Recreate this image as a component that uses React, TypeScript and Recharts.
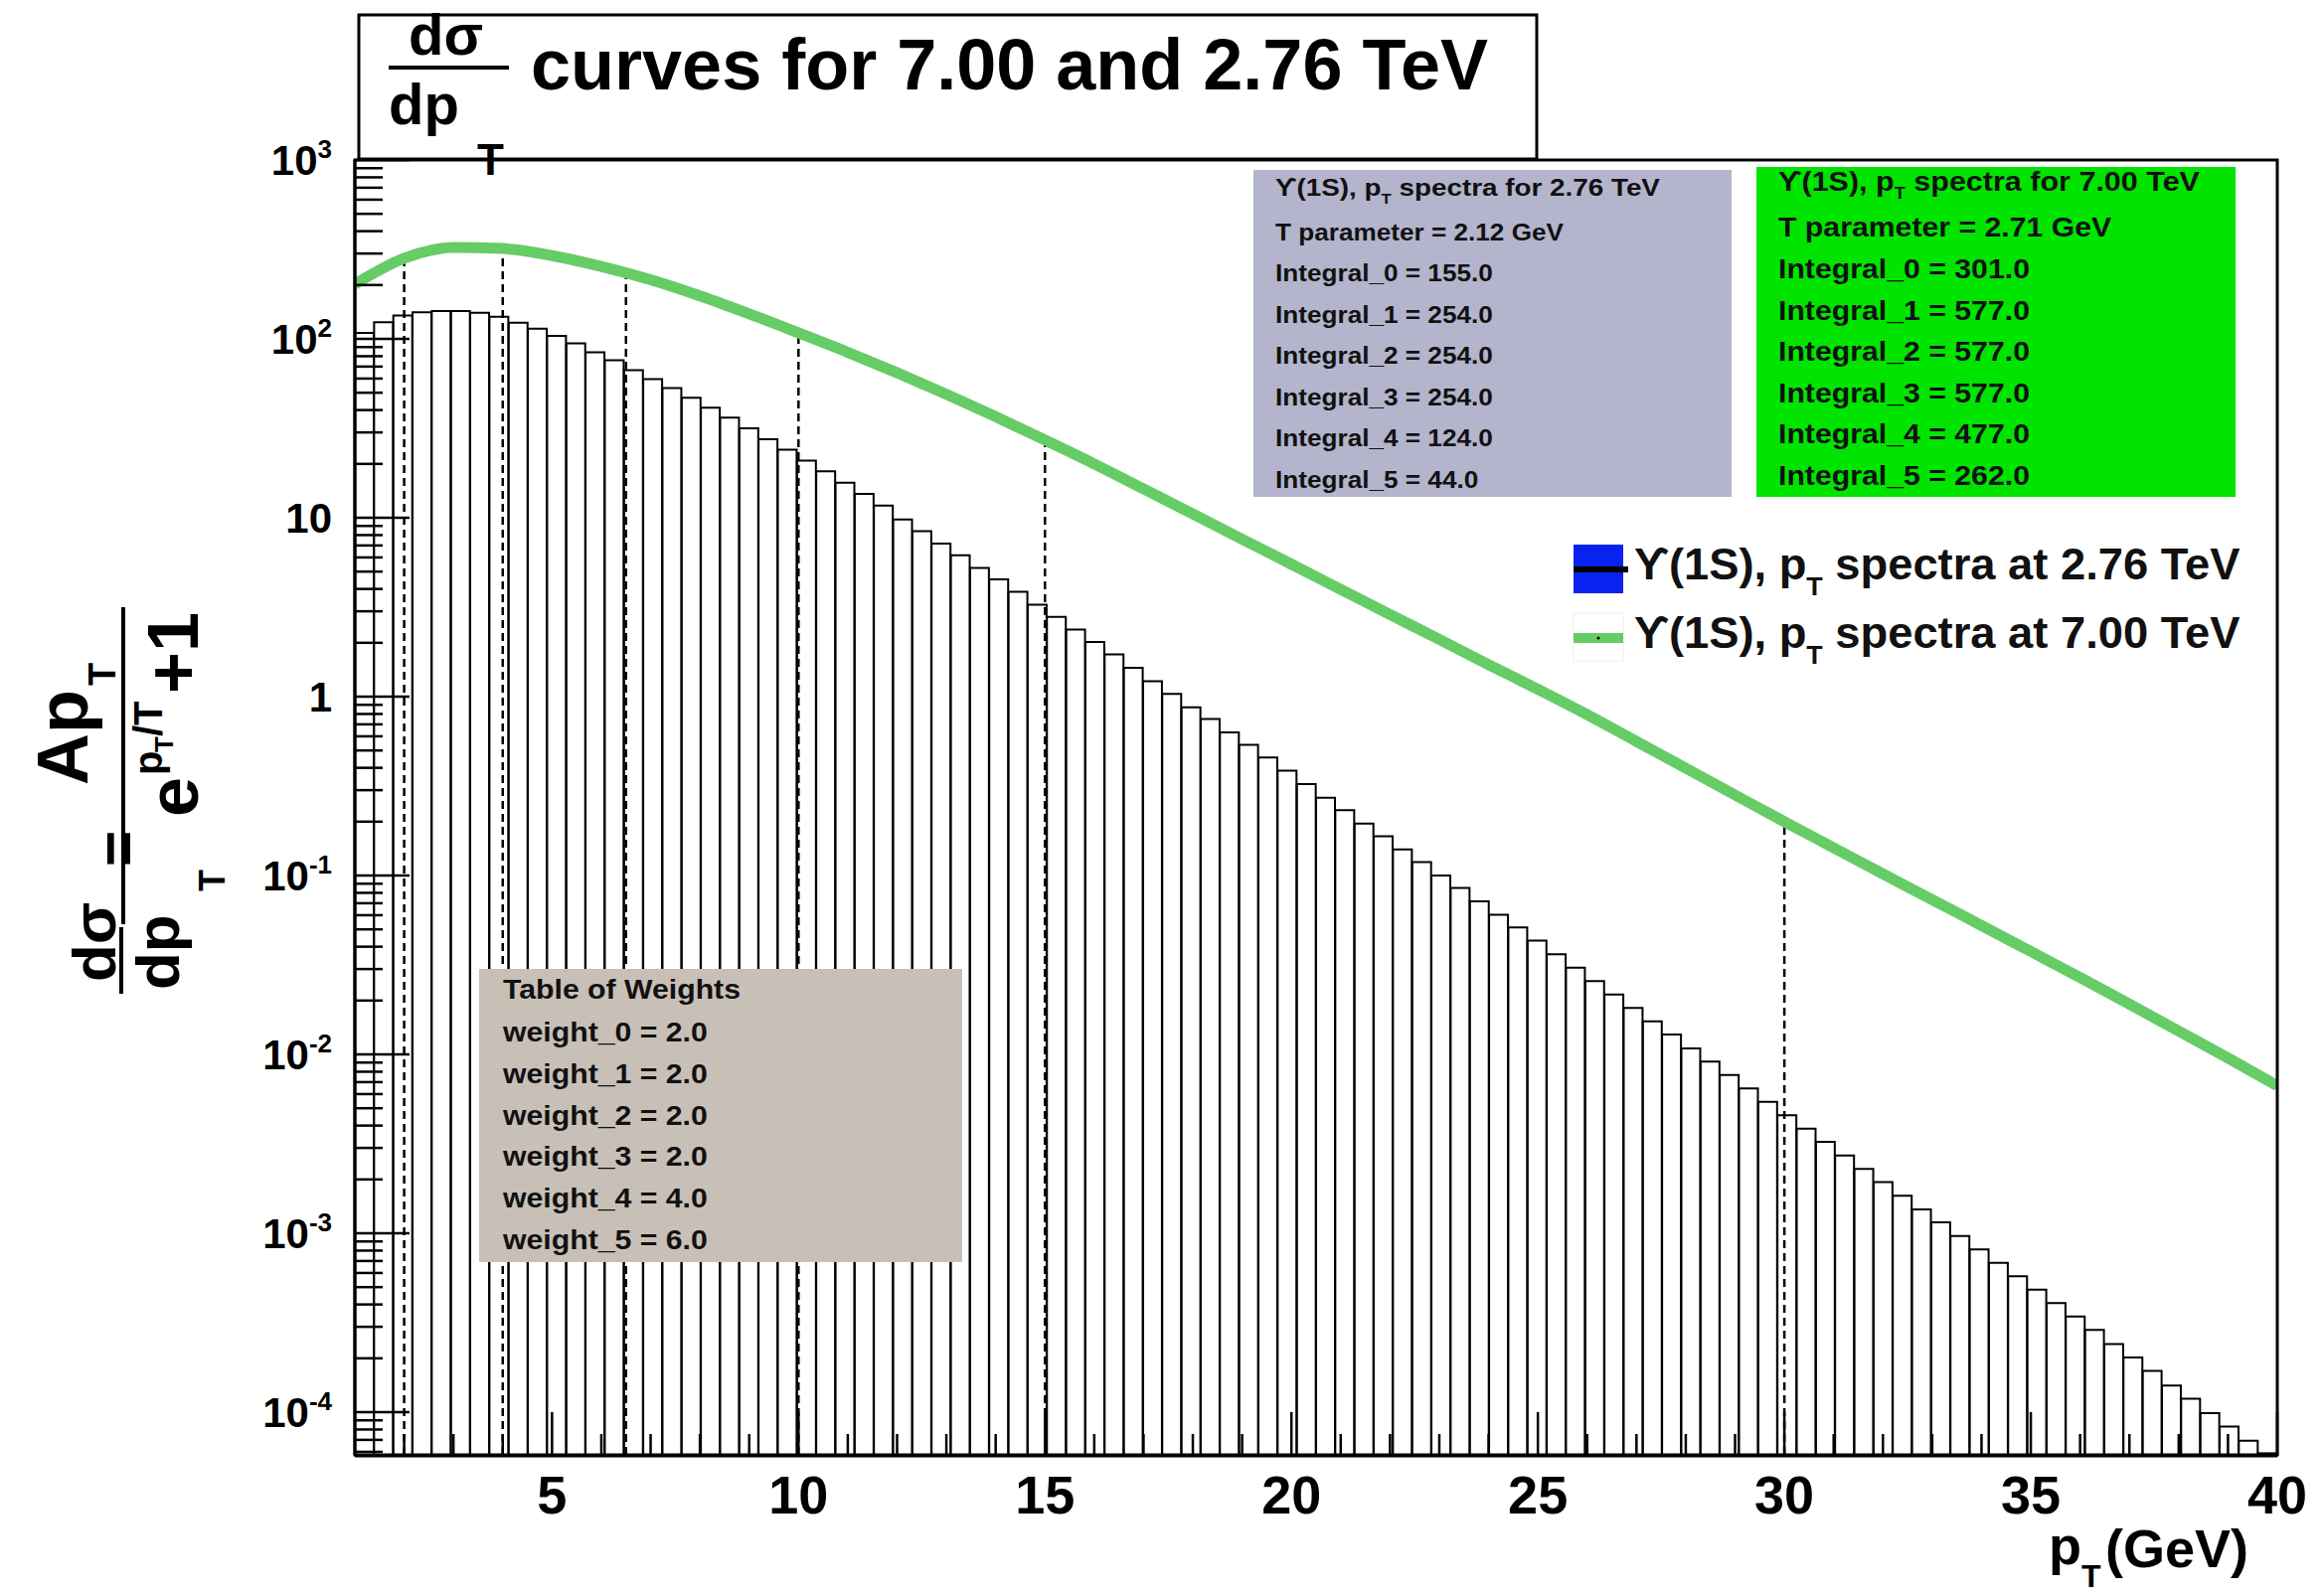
import React from 'react';
import { ComposedChart, Bar, Line, XAxis, YAxis, ReferenceLine } from 'recharts';

const FONT = '"Liberation Sans", Arial, Helvetica, sans-serif';
const W = 2338;
const H = 1604;

// y range of the log axis
const Y_MIN = 5.77e-5;
const Y_MAX = 1000;

// 2.76 TeV histogram, 100 bins of width 0.39 GeV from pT = 1 to 40
const histValues = [
  108, 124, 135, 141, 143, 143, 140, 133, 123, 114,
  104, 94.4, 84.1, 75.9, 66.8, 59.6, 53.1, 46.8, 41.2, 36.3,
  31.6, 27.5, 24.0, 20.9, 18.2, 15.7, 13.6, 11.7, 9.77, 8.41,
  7.16, 6.17, 5.25, 4.52, 3.85, 3.27, 2.79, 2.37, 2.02, 1.72,
  1.45, 1.22, 1.035, 0.871, 0.75, 0.631, 0.537, 0.457, 0.385, 0.324,
  0.272, 0.232, 0.195, 0.166, 0.14, 0.119, 0.1, 0.0851, 0.0716, 0.0603,
  0.0513, 0.0432, 0.0363, 0.0305, 0.0257, 0.0216, 0.0182, 0.0153, 0.0129, 0.0108,
  0.00912, 0.00767, 0.00646, 0.00543, 0.00457, 0.00385, 0.00324, 0.00272, 0.00229, 0.00193,
  0.00162, 0.00136, 0.00115, 0.000966, 0.000813, 0.000684, 0.000575, 0.000484, 0.000407, 0.000343,
  0.000288, 0.00024, 0.000202, 0.00017, 0.000141, 0.000119, 0.0000989, 0.0000832, 0.0000692, 0.0000589,
];

// 7.00 TeV curve, read at integer pT
const curvePt = [
  1, 2, 3, 4, 5, 6, 7, 8, 9, 10, 11, 12, 13, 14, 15, 16, 17, 18, 19, 20,
  21, 22, 23, 24, 25, 26, 27, 28, 29, 30, 31, 32, 33, 34, 35, 36, 37, 38, 39, 40,
];
const curveVal = [
  202, 282, 324, 320, 292, 254, 214, 174, 138, 108,
  84.1, 64.6, 49.0, 36.7, 27.2, 20.0, 14.5, 10.5, 7.59, 5.5,
  3.98, 2.88, 2.09, 1.51, 1.1, 0.794, 0.562, 0.398, 0.282, 0.2,
  0.143, 0.102, 0.0733, 0.0525, 0.0376, 0.0269, 0.0191, 0.0135, 0.00955, 0.00668,
];

// dashed integration boundaries and where they stop
const cutPt = [2, 4, 6.5, 10, 15, 30];
const cutTop = [282, 320, 235, 108, 27.2, 0.2];

const xTicks = Array.from({ length: 39 }, (_, i) => i + 2);
const yDecades = [-5, -4, -3, -2, -1, 0, 1, 2];
const yTicks = [...yDecades.flatMap((k) => [1, 2, 3, 4, 5, 6, 7, 8, 9].map((m) => m * Math.pow(10, k))), 1000].filter(
  (v) => v >= Y_MIN && v <= Y_MAX
);

const integrals276 = ['155.0', '254.0', '254.0', '254.0', '124.0', '44.0'];
const integrals700 = ['301.0', '577.0', '577.0', '577.0', '477.0', '262.0'];
const tParams = ['2.12', '2.71'];
const energies = ['2.76', '7.00'];
const weights = ['2.0', '2.0', '2.0', '2.0', '4.0', '6.0'];

const histBins = histValues.map((value, i) => ({ bin: `b${i}`, value }));
const curveData = curvePt.map((pt, i) => ({ pt, value: curveVal[i] }));

const XTick = (props: any) => {
  const { x, y, payload } = props;
  const v = payload.value;
  const major = v % 5 === 0;
  return (
    <g>
      <line x1={x} y1={y} x2={x} y2={y - (major ? 44 : 22)} stroke="#000" strokeWidth={2.5} />
      {major && (
        <text x={x} y={y + 58} textAnchor="middle" fontSize={54} fontWeight="bold" fontFamily={FONT} fill="#000">
          {v}
        </text>
      )}
    </g>
  );
};

const YTick = (props: any) => {
  const { x, y, payload } = props;
  const lg = Math.log10(payload.value);
  const k = Math.round(lg);
  const major = Math.abs(lg - k) < 1e-6;
  return (
    <g>
      <line x1={x} y1={y} x2={x + (major ? 55 : 28)} y2={y} stroke="#000" strokeWidth={2.5} />
      {major && (
        <text x={x - 23} y={y + 15} textAnchor="end" fontSize={42} fontWeight="bold" fontFamily={FONT} fill="#000">
          {k === 0 ? '1' : k === 1 ? '10' : (
            <>
              10<tspan dy={-17} fontSize={26}>{k}</tspan>
            </>
          )}
        </text>
      )}
    </g>
  );
};

// rotated text, x is the baseline position, text runs upward from y
const RT = ({ x, y, size, children }: { x: number; y: number; size: number; children: React.ReactNode }) => (
  <text transform={`translate(${x} ${y}) rotate(-90)`} fontSize={size} fontWeight="bold" fontFamily={FONT} fill="#000">
    {children}
  </text>
);

const StatBox = ({ x, y, w, h, fill, size, sx, sx0, lines, energy, tParam, ints }: any) => {
  const tx = x + 22;
  const step = 41.5;
  return (
    <g>
      <rect x={x} y={y} width={w} height={h} fill={fill} />
      <g fontFamily={FONT} fontWeight="bold" fontSize={size} fill="#111">
        <text transform={`translate(${tx} ${lines[0]}) scale(${sx0} 1)`}>
          ϒ(1S), p<tspan dy={8} fontSize={size * 0.6}>T</tspan>
          <tspan dy={-8}> spectra for {energy} TeV</tspan>
        </text>
        <text transform={`translate(${tx} ${lines[1]}) scale(${sx} 1)`}>T parameter = {tParam} GeV</text>
        {ints.map((v: string, i: number) => (
          <text key={i} transform={`translate(${tx} ${lines[2] + i * step}) scale(${sx} 1)`}>
            Integral_{i} = {v}
          </text>
        ))}
      </g>
    </g>
  );
};

const Overlay = () => (
  <svg width={W} height={H} style={{ position: 'absolute', left: 0, top: 0, pointerEvents: 'none' }}>
    {/* frame */}
    <rect x={357} y={161} width={1934} height={1303} fill="none" stroke="#000" strokeWidth={3} />

    {/* title */}
    <rect x={361} y={15} width={1185} height={145} fill="#fff" stroke="#000" strokeWidth={3} />
    <g fontFamily={FONT} fontWeight="bold" fill="#000">
      <text x={411} y={55} fontSize={58}>dσ</text>
      <line x1={391} x2={512} y1={68} y2={68} stroke="#000" strokeWidth={4} />
      <text x={391} y={125} fontSize={58}>dp</text>
      <text x={480} y={176} fontSize={44}>T</text>
      <text x={534} y={90} fontSize={72}>curves for 7.00 and 2.76 TeV</text>
    </g>

    {/* stat boxes */}
    <StatBox x={1261} y={171} w={481} h={329} fill="#b4b4cc" size={24} sx={1.09} sx0={1.16}
      lines={[197, 242, 283]} energy={energies[0]} tParam={tParams[0]} ints={integrals276} />
    <StatBox x={1767} y={168} w={482} h={332} fill="#00e400" size={27} sx={1.12} sx0={1.13}
      lines={[192, 238, 280]} energy={energies[1]} tParam={tParams[1]} ints={integrals700} />

    {/* legend */}
    <rect x={1583} y={548} width={50} height={49} fill="#0a22f0" />
    <line x1={1583} x2={1638} y1={573} y2={573} stroke="#000" strokeWidth={6} />
    <rect x={1583} y={617} width={50} height={48} fill="#fff" stroke="#eee" strokeWidth={1} />
    <line x1={1583} x2={1633} y1={642} y2={642} stroke="#66cc66" strokeWidth={10} />
    <circle cx={1608} cy={642} r={1.5} fill="#000" />
    <g fontFamily={FONT} fontWeight="bold" fontSize={44} fill="#111">
      <text transform="translate(1644 583) scale(1.03 1)">
        ϒ(1S), p<tspan dy={16} fontSize={26}>T</tspan>
        <tspan dy={-16}> spectra at {energies[0]} TeV</tspan>
      </text>
      <text transform="translate(1644 652) scale(1.03 1)">
        ϒ(1S), p<tspan dy={16} fontSize={26}>T</tspan>
        <tspan dy={-16}> spectra at {energies[1]} TeV</tspan>
      </text>
    </g>

    {/* weights */}
    <rect x={482} y={975} width={486} height={295} fill="#c8c0b7" />
    <g fontFamily={FONT} fontWeight="bold" fontSize={28} fill="#111">
      <text transform="translate(506 1005) scale(1.08 1)">Table of Weights</text>
      {weights.map((w, i) => (
        <text key={i} transform={`translate(506 ${1048 + i * 41.8}) scale(1.08 1)`}>
          weight_{i} = {w}
        </text>
      ))}
    </g>

    {/* y axis title */}
    <RT x={116} y={988} size={62}>dσ</RT>
    <line x1={122} x2={122} y1={933} y2={1000} stroke="#000" strokeWidth={4} />
    <RT x={180} y={996} size={62}>dp</RT>
    <RT x={226} y={897} size={36}>T</RT>
    <RT x={140} y={872} size={62}>=</RT>
    <line x1={124} x2={124} y1={611} y2={930} stroke="#000" strokeWidth={4} />
    <RT x={88} y={790} size={72}>Ap</RT>
    <RT x={116} y={690} size={38}>T</RT>
    <RT x={199} y={822} size={72}>e</RT>
    <RT x={163} y={780} size={40}>p</RT>
    <RT x={174} y={757} size={26}>T</RT>
    <RT x={163} y={741} size={40}>/T</RT>
    <RT x={199} y={698} size={72}>+1</RT>

    {/* x axis title */}
    <g fontFamily={FONT} fontWeight="bold" fill="#000">
      <text x={2061} y={1574} fontSize={54}>p</text>
      <text x={2094} y={1597} fontSize={32}>T</text>
      <text x={2118} y={1577} fontSize={54}>(GeV)</text>
    </g>
  </svg>
);

export default function App() {
  return (
    <div style={{ position: 'absolute', left: 0, top: 0, width: W, height: H, background: '#fff' }}>
      <ComposedChart
        width={W}
        height={H}
        data={histBins}
        margin={{ top: 161, right: 47, bottom: 139, left: 356 }}
        barCategoryGap={0}
        barGap={0}
      >
        <XAxis xAxisId="cat" dataKey="bin" type="category" hide height={1} />
        <XAxis
          xAxisId="num"
          dataKey="pt"
          type="number"
          domain={[1, 40]}
          allowDataOverflow
          ticks={xTicks}
          interval={0}
          height={1}
          tickSize={0}
          tickMargin={0}
          tickLine={false}
          axisLine={{ stroke: '#000', strokeWidth: 3 }}
          tick={XTick}
        />
        <YAxis
          scale="log"
          domain={[Y_MIN, Y_MAX]}
          allowDataOverflow
          ticks={yTicks}
          interval={0}
          width={1}
          tickSize={0}
          tickMargin={0}
          tickLine={false}
          axisLine={{ stroke: '#000', strokeWidth: 3 }}
          tick={YTick}
        />
        <Bar xAxisId="cat" dataKey="value" fill="none" stroke="#000" strokeWidth={2} isAnimationActive={false} />
        {cutPt.map((pt, i) => (
          <ReferenceLine
            key={pt}
            xAxisId="num"
            segment={[{ x: pt, y: Y_MIN }, { x: pt, y: cutTop[i] }]}
            stroke="#000"
            strokeWidth={2.5}
            strokeDasharray="8 5"
          />
        ))}
        <Line
          xAxisId="num"
          data={curveData}
          dataKey="value"
          type="monotone"
          stroke="#66cc66"
          strokeWidth={11}
          dot={false}
          isAnimationActive={false}
        />
      </ComposedChart>
      <Overlay />
    </div>
  );
}
